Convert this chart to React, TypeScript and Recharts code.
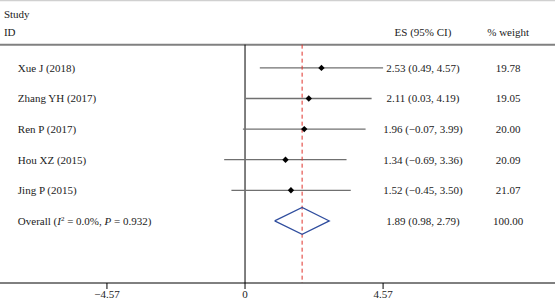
import React from 'react'
import { ComposedChart, Scatter, XAxis, YAxis, ReferenceLine } from 'recharts'

document.body.style.margin = '0'

const studies = ['Xue J (2018)', 'Zhang YH (2017)', 'Ren P (2017)', 'Hou XZ (2015)', 'Jing P (2015)']
const es = [2.53, 2.11, 1.96, 1.34, 1.52]
const lo = [0.49, 0.03, -0.07, -0.69, -0.45]
const hi = [4.57, 4.19, 3.99, 3.36, 3.5]
const weights = ['19.78', '19.05', '20.00', '20.09', '21.07']
const overall = { es: 1.89, lo: 0.98, hi: 2.79, weight: '100.00' }
const xTicks = [-4.57, 0, 4.57]

const W = 555
const H = 302
const FONT = '"Liberation Serif", "DejaVu Serif", serif'
const TXT = '#222'

// column positions in data units
const X_LABEL = -7.52
const X_HEAD = -7.98
const X_ES = 5.89
const X_WT = 8.71
const Y_TOP = 0.24
const Y_AXIS = 8.03

const fmt = (v: number) => (v < 0 ? '\u2212' + Math.abs(v).toFixed(2) : v.toFixed(2))
const ciText = (e: number, l: number, h: number) => `${fmt(e)} (${fmt(l)}, ${fmt(h)})`

const rows = studies.map((name, i) => ({ name, y: i + 1, es: es[i], lo: lo[i], hi: hi[i], weight: weights[i] }))
const overallY = rows.length + 1

const points = rows.map(r => ({ x: r.es, y: r.y }))
const labelData = [
  ...rows.map(r => ({ x: X_LABEL, y: r.y, text: r.name })),
]
const esData = [
  ...rows.map(r => ({ x: X_ES, y: r.y, text: ciText(r.es, r.lo, r.hi) })),
  { x: X_ES, y: overallY, text: ciText(overall.es, overall.lo, overall.hi) },
  { x: X_ES, y: -0.18, text: 'ES (95% CI)' },
]
const wtData = [
  ...rows.map(r => ({ x: X_WT, y: r.y, text: r.weight })),
  { x: X_WT, y: overallY, text: overall.weight },
  { x: X_WT, y: -0.18, text: '% weight' },
]
const headData = [
  { x: X_HEAD, y: -0.77, text: 'Study' },
  { x: X_HEAD, y: -0.18, text: 'ID' },
]
const diamond = [
  { x: overall.lo, y: overallY },
  { x: overall.es, y: overallY - 0.44 },
  { x: overall.hi, y: overallY },
  { x: overall.es, y: overallY + 0.44 },
  { x: overall.lo, y: overallY },
]

const textShape = (anchor: 'start' | 'middle') => (p: any) => (
  <text x={p.cx} y={p.cy} dy="0.35em" textAnchor={anchor} fontSize={11} fontFamily={FONT} fill={TXT}>
    {p.payload.text}
  </text>
)

const OverallLabel = (p: any) => (
  <text x={p.cx} y={p.cy} dy="0.35em" fontSize={11} fontFamily={FONT} fill={TXT}>
    Overall (<tspan fontStyle="italic">I</tspan>
    <tspan fontSize={7} dy={-4}>2</tspan>
    <tspan dy={4}> = 0.0%, </tspan>
    <tspan fontStyle="italic">P</tspan> = 0.932)
  </text>
)

const Marker = (p: any) => (
  <polygon
    points={`${p.cx - 3.2},${p.cy} ${p.cx},${p.cy - 3.2} ${p.cx + 3.2},${p.cy} ${p.cx},${p.cy + 3.2}`}
    fill="#000"
  />
)

const Nothing = () => <g />

export default function App() {
  return (
    <div style={{ width: W, height: H, background: '#fff' }}>
      <ComposedChart width={W} height={H} margin={{ top: 0, right: 0, bottom: 0, left: 0 }}>
        <XAxis
          type="number"
          dataKey="x"
          domain={[-8.11, 10.26]}
          ticks={xTicks}
          tickFormatter={(v: number) => (v < 0 ? '\u2212' + Math.abs(v).toFixed(2) : v === 0 ? '0' : v.toFixed(2))}
          allowDataOverflow
          height={19}
          tickSize={6}
          tickMargin={1}
          axisLine={{ stroke: '#000', strokeWidth: 1 }}
          tickLine={{ stroke: '#000' }}
          tick={{ fontSize: 11, fontFamily: FONT, fill: TXT }}
        />
        <YAxis type="number" dataKey="y" domain={[-1.22, Y_AXIS]} reversed hide allowDataOverflow />
        <ReferenceLine y={-1.2} stroke="#d0d0d0" strokeWidth={1.5} />
        <ReferenceLine y={Y_TOP} stroke="#808080" strokeWidth={2} />
        <ReferenceLine segment={[{ x: 0, y: Y_TOP }, { x: 0, y: Y_AXIS }]} stroke="#000" strokeWidth={1} />
        {rows.map(r => (
          <ReferenceLine
            key={r.name}
            segment={[{ x: r.lo, y: r.y }, { x: r.hi, y: r.y }]}
            stroke="#707070"
            strokeWidth={1.3}
          />
        ))}
        <ReferenceLine
          segment={[{ x: overall.es, y: Y_TOP }, { x: overall.es, y: Y_AXIS }]}
          stroke="#e0312b"
          strokeDasharray="4 3"
          strokeWidth={1}
        />
        <Scatter data={diamond} line={{ stroke: '#2f4d9e', strokeWidth: 1.2 }} shape={Nothing} isAnimationActive={false} />
        <Scatter data={points} shape={Marker} isAnimationActive={false} />
        <Scatter data={headData} shape={textShape('start')} isAnimationActive={false} />
        <Scatter data={labelData} shape={textShape('start')} isAnimationActive={false} />
        <Scatter data={[{ x: X_LABEL, y: overallY }]} shape={OverallLabel} isAnimationActive={false} />
        <Scatter data={esData} shape={textShape('middle')} isAnimationActive={false} />
        <Scatter data={wtData} shape={textShape('middle')} isAnimationActive={false} />
      </ComposedChart>
    </div>
  )
}
